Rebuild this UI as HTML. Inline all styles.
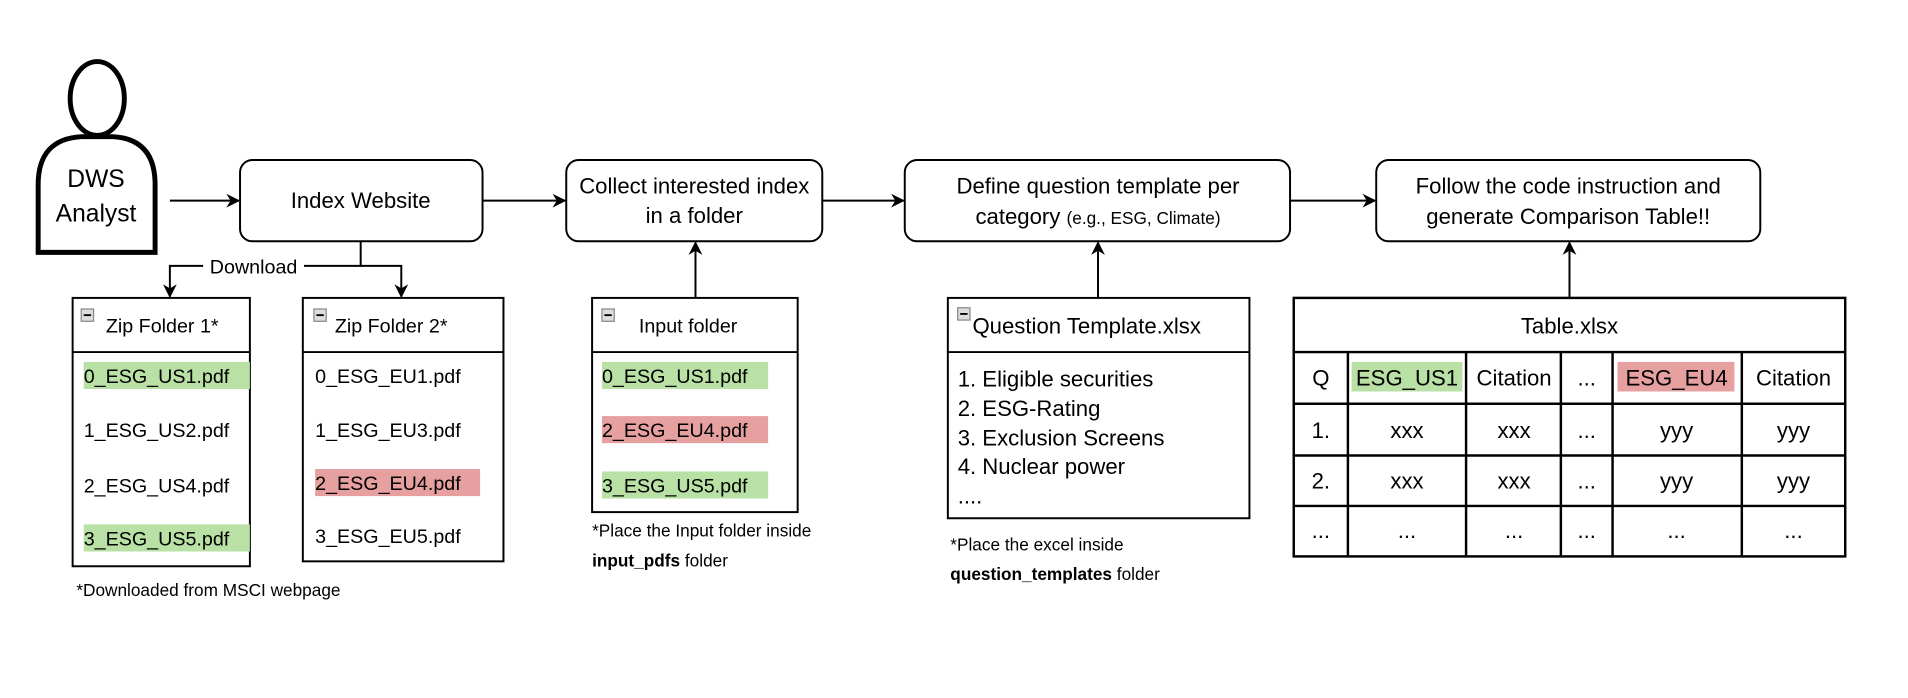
<!DOCTYPE html>
<html><head><meta charset="utf-8"><style>
html,body{margin:0;padding:0;background:#fff}
svg{display:block}
text{font-family:"Liberation Sans",Arial,sans-serif;fill:#000}
</style></head><body>
<svg width="1908" height="698" viewBox="0 0 1550 567" xmlns="http://www.w3.org/2000/svg">
<defs><marker id="ah" viewBox="0 0 10 10" refX="9" refY="5" markerWidth="7" markerHeight="7" orient="auto-start-reverse"><path d="M0,0 L10,5 L0,10 L3,5 z" fill="#000"/></marker></defs>
<rect width="1550" height="567" fill="#fff"/>
<!-- person -->
<g stroke="#000" stroke-width="4" fill="#fff">
<ellipse cx="79" cy="80" rx="22" ry="30"/>
<path d="M31,205 L31,150 Q31,113 66,111 L92,111 Q126,113 126,150 L126,205 Z" transform="translate(-0,0)" />
</g>
<text x="78" y="152" font-size="20" text-anchor="middle">DWS</text>
<text x="78" y="180" font-size="20" text-anchor="middle">Analyst</text>
<g stroke="#000" stroke-width="1.6" fill="none">
<line x1="138" y1="163" x2="194" y2="163" marker-end="url(#ah)"/>
<line x1="392" y1="163" x2="459" y2="163" marker-end="url(#ah)"/>
<line x1="668" y1="163" x2="734" y2="163" marker-end="url(#ah)"/>
<line x1="1048" y1="163" x2="1117" y2="163" marker-end="url(#ah)"/>
<polyline points="293,196 293,216 138,216 138,241" marker-end="url(#ah)"/>
<polyline points="293,216 326,216 326,241" marker-end="url(#ah)"/>
<line x1="565" y1="242" x2="565" y2="197" marker-end="url(#ah)"/>
<line x1="892" y1="242" x2="892" y2="197" marker-end="url(#ah)"/>
<line x1="1275" y1="242" x2="1275" y2="197" marker-end="url(#ah)"/>
<rect x="195" y="130" width="197" height="66" rx="10"/>
<rect x="460" y="130" width="208" height="66" rx="10"/>
<rect x="735" y="130" width="313" height="66" rx="10"/>
<rect x="1118" y="130" width="312" height="66" rx="10"/>
</g>
<text x="293" y="169" font-size="18" text-anchor="middle">Index Website</text>
<text x="564" y="157" font-size="18" text-anchor="middle">Collect interested index</text>
<text x="564" y="181" font-size="18" text-anchor="middle">in a folder</text>
<text x="892" y="157" font-size="18" text-anchor="middle">Define question template per</text>
<text x="892" y="182" font-size="18" text-anchor="middle">category <tspan font-size="14">(e.g., ESG, Climate)</tspan></text>
<text x="1274" y="157" font-size="18" text-anchor="middle">Follow the code instruction and</text>
<text x="1274" y="182" font-size="18" text-anchor="middle">generate Comparison Table!!</text>
<rect x="165" y="208" width="82" height="18" fill="#fff"/>
<text x="206" y="222" font-size="16" text-anchor="middle">Download</text>
<!-- containers -->
<g stroke="#000" stroke-width="1.6" fill="none">
<rect x="59" y="242" width="144" height="218"/><line x1="59" y1="286" x2="203" y2="286"/>
<rect x="246" y="242" width="163" height="214"/><line x1="246" y1="286" x2="409" y2="286"/>
<rect x="481" y="242" width="167" height="174"/><line x1="481" y1="286" x2="648" y2="286"/>
<rect x="770" y="242" width="245" height="179"/><line x1="770" y1="286" x2="1015" y2="286"/>
</g>
<g fill="#ddd" stroke="#888" stroke-width="1">
<rect x="66" y="251" width="10" height="10"/>
<rect x="255" y="251" width="10" height="10"/>
<rect x="489" y="251" width="10" height="10"/>
<rect x="778" y="250" width="10" height="10"/>
</g>
<g stroke="#000" stroke-width="1.5"><line x1="68" y1="256" x2="74" y2="256"/><line x1="257" y1="256" x2="263" y2="256"/><line x1="491" y1="256" x2="497" y2="256"/><line x1="780" y1="255" x2="786" y2="255"/></g>
<text x="86" y="270" font-size="16">Zip Folder 1*</text>
<text x="272" y="270" font-size="16">Zip Folder 2*</text>
<text x="519" y="270" font-size="16">Input folder</text>
<text x="790" y="271" font-size="18">Question Template.xlsx</text>
<g fill="#b9e0a5"><rect x="68" y="294" width="135" height="22"/><rect x="68" y="426" width="135" height="22"/><rect x="489" y="294" width="135" height="22"/><rect x="489" y="383" width="135" height="22"/><rect x="1098" y="294" width="90" height="24"/></g>
<g fill="#e6a0a0"><rect x="256" y="381" width="134" height="22"/><rect x="489" y="338" width="135" height="22"/><rect x="1314" y="294" width="95" height="24"/></g>
<g font-size="16">
<text x="68" y="311">0_ESG_US1.pdf</text><text x="68" y="355">1_ESG_US2.pdf</text><text x="68" y="400">2_ESG_US4.pdf</text><text x="68" y="443">3_ESG_US5.pdf</text>
<text x="256" y="311">0_ESG_EU1.pdf</text><text x="256" y="355">1_ESG_EU3.pdf</text><text x="256" y="398">2_ESG_EU4.pdf</text><text x="256" y="441">3_ESG_EU5.pdf</text>
<text x="489" y="311">0_ESG_US1.pdf</text><text x="489" y="355">2_ESG_EU4.pdf</text><text x="489" y="400">3_ESG_US5.pdf</text>
</g>
<g font-size="18"><text x="778" y="314">1. Eligible securities</text><text x="778" y="338">2. ESG-Rating</text><text x="778" y="362">3. Exclusion Screens</text><text x="778" y="385">4. Nuclear power</text><text x="778" y="409">....</text></g>
<g font-size="14">
<text x="62" y="484">*Downloaded from MSCI webpage</text>
<text x="481" y="436">*Place the Input folder inside</text>
<text x="481" y="460"><tspan font-weight="bold">input_pdfs</tspan> folder</text>
<text x="772" y="447">*Place the excel inside</text>
<text x="772" y="471"><tspan font-weight="bold">question_templates</tspan> folder</text>
</g>
<!-- table -->
<g stroke="#000" stroke-width="2" fill="none">
<rect x="1051" y="242" width="448" height="210"/>
<line x1="1051" y1="286" x2="1499" y2="286"/><line x1="1051" y1="328" x2="1499" y2="328"/><line x1="1051" y1="370" x2="1499" y2="370"/><line x1="1051" y1="411" x2="1499" y2="411"/>
<line x1="1095" y1="286" x2="1095" y2="452"/><line x1="1191" y1="286" x2="1191" y2="452"/><line x1="1268" y1="286" x2="1268" y2="452"/><line x1="1310" y1="286" x2="1310" y2="452"/><line x1="1415" y1="286" x2="1415" y2="452"/>
</g>
<text x="1275" y="271" font-size="18" text-anchor="middle">Table.xlsx</text>
<g font-size="18" text-anchor="middle">
<text x="1073" y="313">Q</text><text x="1143" y="313">ESG_US1</text><text x="1230" y="313">Citation</text><text x="1289" y="313">...</text><text x="1362" y="313">ESG_EU4</text><text x="1457" y="313">Citation</text>
<text x="1073" y="356">1.</text><text x="1143" y="356">xxx</text><text x="1230" y="356">xxx</text><text x="1289" y="356">...</text><text x="1362" y="356">yyy</text><text x="1457" y="356">yyy</text>
<text x="1073" y="397">2.</text><text x="1143" y="397">xxx</text><text x="1230" y="397">xxx</text><text x="1289" y="397">...</text><text x="1362" y="397">yyy</text><text x="1457" y="397">yyy</text>
<text x="1073" y="437">...</text><text x="1143" y="437">...</text><text x="1230" y="437">...</text><text x="1289" y="437">...</text><text x="1362" y="437">...</text><text x="1457" y="437">...</text>
</g>
</svg>
</body></html>
